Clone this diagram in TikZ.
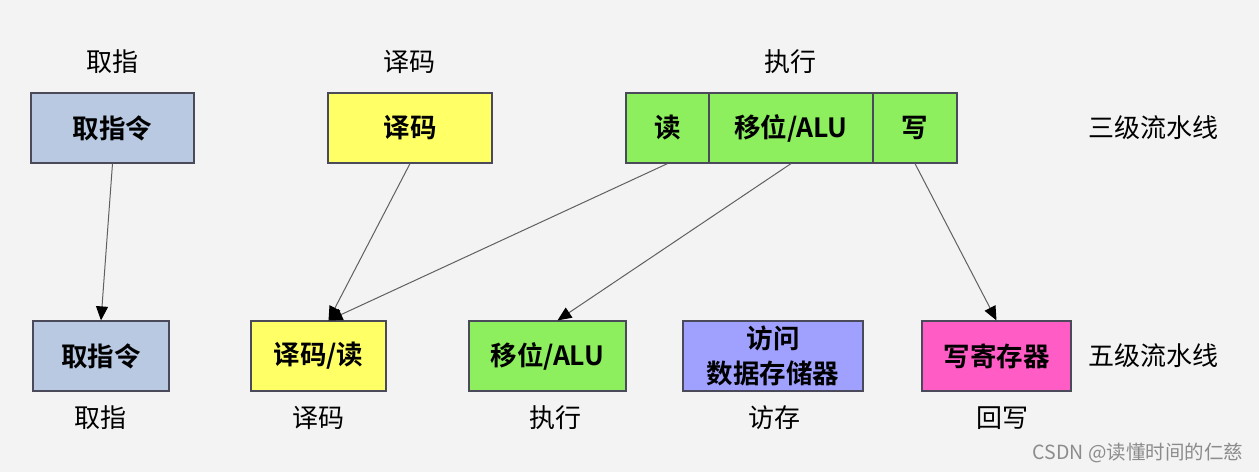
\documentclass[tikz,border=0pt]{standalone}
\usepackage{fontspec}
\setmainfont{Noto Sans CJK SC}[BoldFont={Noto Sans CJK SC Bold}]
\usetikzlibrary{arrows.meta}
\definecolor{bg}{HTML}{F3F3F3}
\definecolor{boxline}{HTML}{4A4A5A}
\definecolor{lineg}{HTML}{606060}
\definecolor{cblue}{HTML}{B9C9E2}
\definecolor{cyellow}{HTML}{FFFF66}
\definecolor{cgreen}{HTML}{8DEE5E}
\definecolor{cpurple}{HTML}{A0A0FF}
\definecolor{cpink}{HTML}{FF5CC6}
\begin{document}
\begin{tikzpicture}[x=1pt,y=-1pt,
  box/.style={draw=boxline, line width=1.2pt, minimum height=70pt, inner sep=0pt, align=center,
    font=\fontsize{26.5}{32}\selectfont\bfseries},
  lbl/.style={inner sep=0pt, font=\fontsize{26}{30}\selectfont},
  conn/.style={draw=lineg, line width=1pt, -{Triangle[length=14pt,width=12pt,color=black]}}]
\fill[bg] (0,0) rectangle (1259,472);
\useasboundingbox (0,0) rectangle (1259,472);
% three-stage
\node[box, fill=cblue, minimum width=163pt] (f3) at (112.5,128) {取指令};
\node[box, fill=cyellow, minimum width=164pt] (d3) at (410,128) {译码};
\node[box, fill=cgreen, minimum width=83pt] (r3) at (667.5,128) {读};
\node[box, fill=cgreen, minimum width=164pt] (a3) at (791,128) {移位/ALU};
\node[box, fill=cgreen, minimum width=84pt] (w3) at (915,128) {写};
\node[lbl] (lf3) at (112,62) {取指};
\node[lbl] (ld3) at (409,62) {译码};
\node[lbl] (le3) at (790,62) {执行};
\node[lbl] (l3) at (1153,128) {三级流水线};
% five-stage
\node[box, fill=cblue, minimum width=136pt] (f5) at (101,356) {取指令};
\node[box, fill=cyellow, minimum width=135pt] (d5) at (318.5,356) {译码/读};
\node[box, fill=cgreen, minimum width=157pt] (a5) at (547.5,356) {移位/ALU};
\node[box, fill=cpurple, minimum width=180pt, font=\fontsize{26.5}{35}\selectfont\bfseries] (m5) at (773,356) {访问\\数据存储器};
\node[box, fill=cpink, minimum width=149pt] (w5) at (996.5,356) {写寄存器};
\node[lbl] (lf5) at (100,418) {取指};
\node[lbl] (ld5) at (318,418) {译码};
\node[lbl] (le5) at (555,418) {执行};
\node[lbl] (lm5) at (774,418) {访存};
\node[lbl] (lw5) at (1002,418) {回写};
\node[lbl] (l5) at (1153,356) {五级流水线};
\node[inner sep=0pt, text=black!45, font=\fontsize{19.5}{22}\selectfont] (wm) at (1138,453) {CSDN @读懂时间的仁慈};
% connectors
\coordinate (d5in) at ([xshift=10pt]d5.north);
\coordinate (a5in) at ([xshift=10pt]a5.north);
\draw[conn] (f3.south) -- (f5.north);
\draw[conn] (d3.south) -- (d5in);
\draw[conn] (r3.south) -- (d5in);
\draw[conn] (a3.south) -- (a5in);
\draw[conn] (w3.south) -- (w5.north);
\end{tikzpicture}
\end{document}
